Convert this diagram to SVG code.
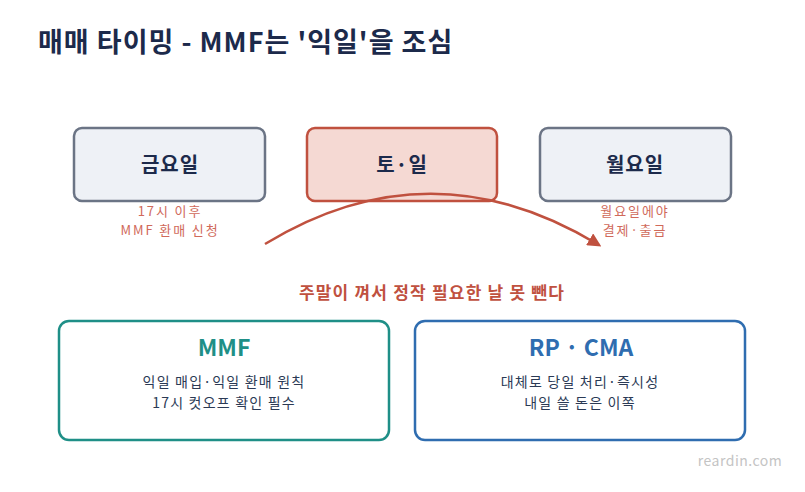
<svg xmlns="http://www.w3.org/2000/svg" width="805" height="492" viewBox="0 0 805 492">
<defs>
<style>
text{font-family:"Noto Sans CJK KR","Noto Sans",sans-serif;}
.title{font-size:27px;font-weight:700;fill:#1c2a4b;letter-spacing:1px;}
.day{font-size:20px;font-weight:700;fill:#1c2a4b;text-anchor:middle;letter-spacing:1px;}
.note{font-size:13px;fill:#d0695a;text-anchor:middle;letter-spacing:1.9px;}
.sub{font-size:17px;font-weight:700;fill:#c0513f;text-anchor:middle;letter-spacing:1.2px;}
.head{font-size:23px;font-weight:700;text-anchor:middle;}
.body{font-size:14px;fill:#2b3a55;text-anchor:middle;letter-spacing:1.2px;}
.grey{fill:#eef1f6;stroke:#6b7485;stroke-width:2.5;}
</style>
<marker id="ah" viewBox="0 0 10 10" refX="8" refY="5" markerWidth="5.5" markerHeight="5.5" orient="auto" markerUnits="strokeWidth">
<path d="M0,0 L10,5 L0,10 z" fill="#c0513f"/>
</marker>
</defs>
<rect width="805" height="492" fill="#ffffff"/>
<text class="title" x="38" y="52">매매 타이밍 - MMF는 '익일'을 조심</text>

<g id="fri">
<rect class="grey" x="74" y="128" width="191" height="73" rx="8"/>
<text class="day" x="170" y="172">금요일</text>
<text class="note" x="170" y="216">17시 이후</text>
<text class="note" x="170" y="235">MMF 환매 신청</text>
</g>
<g id="weekend">
<rect x="307" y="128" width="190" height="73" rx="8" fill="#f5d9d3" stroke="#c0513f" stroke-width="2.5"/>
<text class="day" x="402" y="172">토·일</text>
</g>
<g id="mon">
<rect class="grey" x="540" y="128" width="191" height="73" rx="8"/>
<text class="day" x="635" y="172">월요일</text>
<text class="note" x="635" y="216">월요일에야</text>
<text class="note" x="635" y="235">결제·출금</text>
</g>

<g id="connectors">
<path d="M265,244 Q431,143 599,245" fill="none" stroke="#c0513f" stroke-width="2.5" marker-end="url(#ah)"/>
</g>

<text class="sub" x="432" y="299">주말이 껴서 정작 필요한 날 못 뺀다</text>

<g id="mmf">
<rect x="59" y="321" width="330" height="119" rx="10" fill="#ffffff" stroke="#1f8f87" stroke-width="2.5"/>
<text class="head" x="224" y="356" fill="#1f8f87">MMF</text>
<text class="body" x="224" y="387">익일 매입·익일 환매 원칙</text>
<text class="body" x="224" y="408">17시 컷오프 확인 필수</text>
</g>
<g id="rp">
<rect x="415" y="321" width="330" height="119" rx="10" fill="#ffffff" stroke="#2f6db0" stroke-width="2.5"/>
<text class="head" x="581" y="356" fill="#2f6db0">RP · CMA</text>
<text class="body" x="580" y="387">대체로 당일 처리·즉시성</text>
<text class="body" x="580" y="408">내일 쓸 돈은 이쪽</text>
</g>

<text x="740" y="466" font-size="14" fill="#c4c4c4" text-anchor="middle" letter-spacing="0.5" font-family="'Noto Sans',sans-serif">reardin.com</text>
</svg>
